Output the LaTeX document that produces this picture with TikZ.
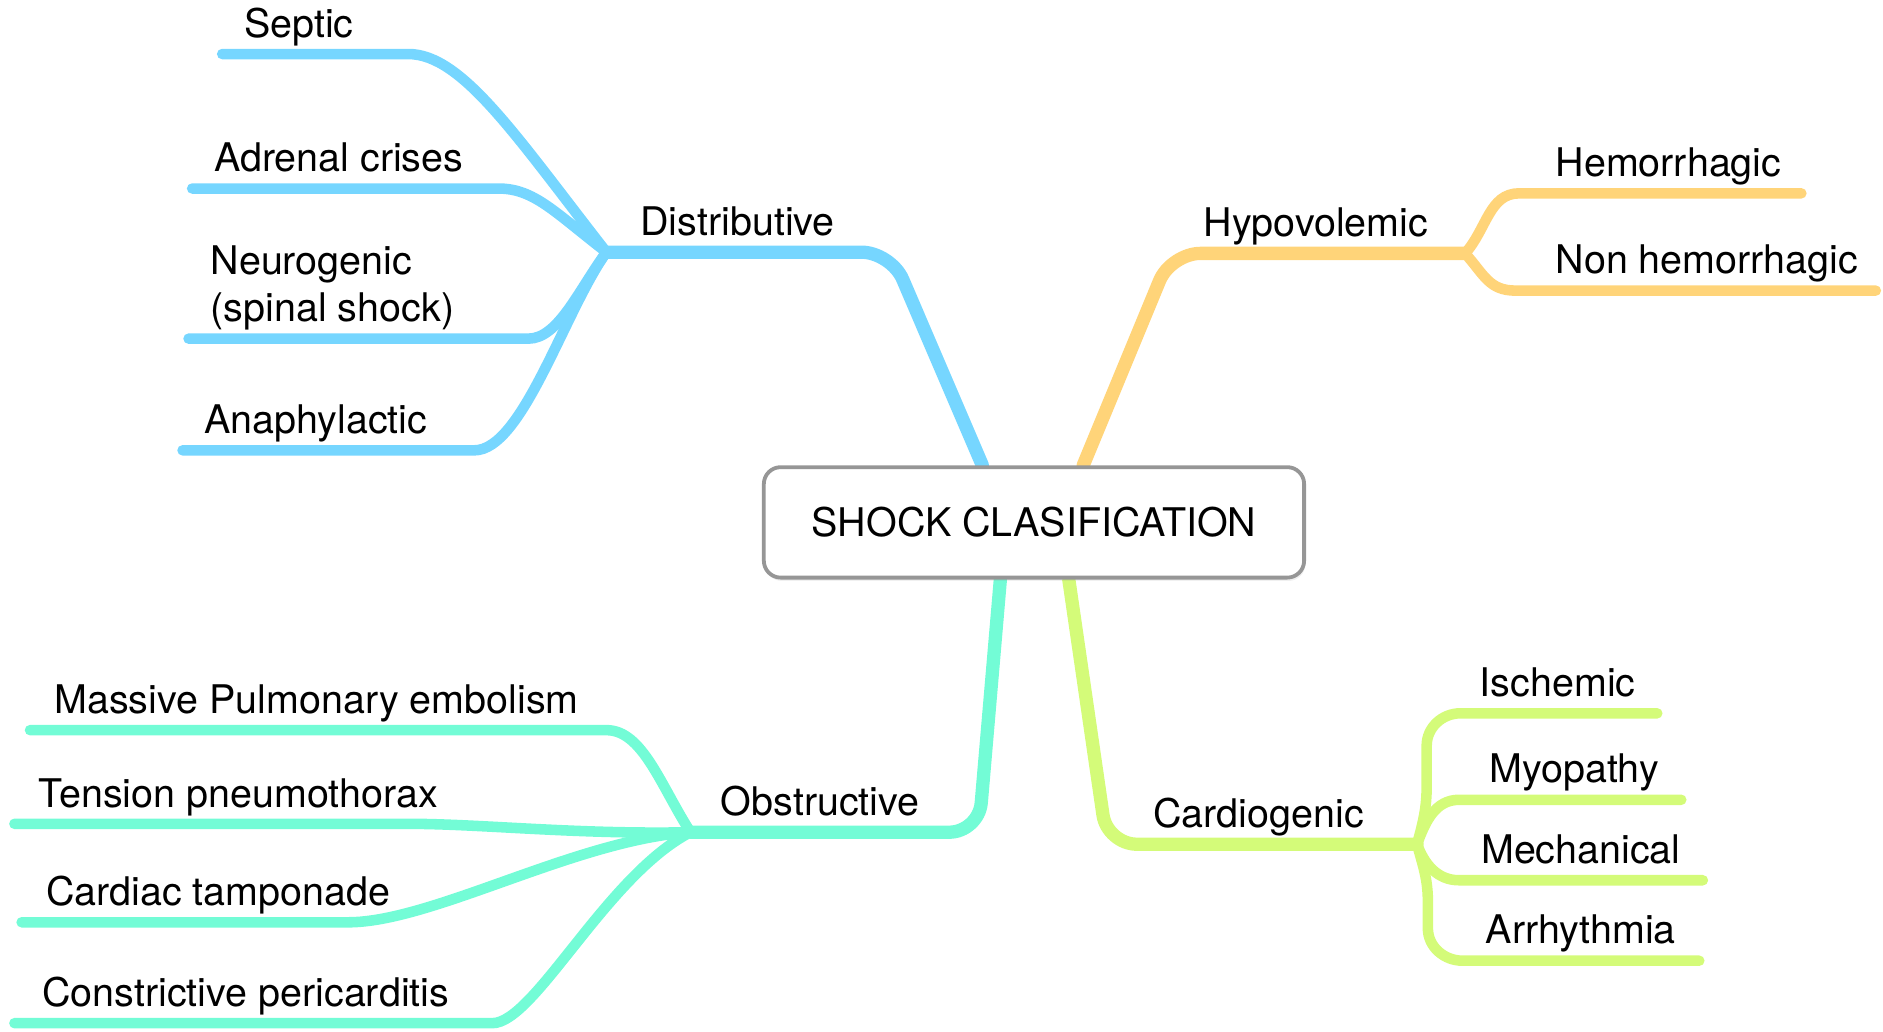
\documentclass[tikz,border=0pt]{standalone}
\usepackage{fontspec}
\setmainfont{TeX Gyre Heros}
\usepackage{tikz}
\usetikzlibrary{backgrounds,calc,shadows}
\definecolor{sky}{HTML}{76D6FF}
\definecolor{cantaloupe}{HTML}{FFD479}
\definecolor{spindrift}{HTML}{73FCD6}
\definecolor{honeydew}{HTML}{D4FB79}
\definecolor{frame}{HTML}{969696}

\begin{document}
\begin{tikzpicture}[x=0.02cm, y=0.02cm,
  lbl/.style={anchor=base west, inner sep=0pt, font=\fontsize{18.7}{22.5}\selectfont},
  trunk/.style={line width=6.3pt, line cap=round, rounded corners=14pt},
  twig/.style={line width=5pt, line cap=round}]
\useasboundingbox (0,0) rectangle (1568,859);

\node[draw=frame, line width=1.8pt, rounded corners=8pt, fill=white,
      minimum width=9cm, minimum height=1.84cm, font=\fontsize{18.7}{22.5}\selectfont,
      drop shadow={shadow xshift=0.6pt, shadow yshift=-1.6pt, opacity=0.12}]
      (root) at (861,424) {SHOCK CLASIFICATION};

\coordinate (djun) at (505,649);
\coordinate (hjun) at (1220,648);
\coordinate (ojun) at (575,166);
\coordinate (cjun) at (1180,156);

\node[lbl] (dist) at (533,663) {Distributive};
\node[lbl] (septic) at (203,828) {Septic};
\node[lbl] (adrenal) at (178,716) {Adrenal crises};
\node[lbl, align=left] (neuro) at (175,591) {Neurogenic\\(spinal shock)};
\node[lbl] (anaph) at (170,498) {Anaphylactic};

\node[lbl] (hypo) at (1002,662) {Hypovolemic};
\node[lbl] (hemor) at (1295,712) {Hemorrhagic};
\node[lbl] (nonhem) at (1295,631) {Non hemorrhagic};

\node[lbl] (obst) at (600,180) {Obstructive};
\node[lbl] (massive) at (45,265) {Massive Pulmonary embolism};
\node[lbl] (tension) at (32,187) {Tension pneumothorax};
\node[lbl] (tamp) at (38,105) {Cardiac tamponade};
\node[lbl] (constr) at (35,21) {Constrictive pericarditis};

\node[lbl] (cardio) at (960,170) {Cardiogenic};
\node[lbl] (ischem) at (1232,279) {Ischemic};
\node[lbl] (myop) at (1240,207) {Myopathy};
\node[lbl] (mech) at (1233,140) {Mechanical};
\node[lbl] (arrhy) at (1237,73) {Arrhythmia};

\coordinate (sep1) at (340,814); \coordinate (sep0) at (185,814);
\coordinate (adr1) at (415,702); \coordinate (adr0) at (160,702);
\coordinate (neu1) at (440,577); \coordinate (neu0) at (157,577);
\coordinate (ana1) at (395,484); \coordinate (ana0) at (152,484);
\coordinate (hem0) at (1265,698); \coordinate (hem1) at (1500,698);
\coordinate (non0) at (1262,617); \coordinate (non1) at (1562,617);
\coordinate (mas1) at (505,251); \coordinate (mas0) at (25,251);
\coordinate (ten1) at (340,173); \coordinate (ten0) at (12,173);
\coordinate (car1) at (290,91); \coordinate (car0) at (18,91);
\coordinate (con1) at (410,7); \coordinate (con0) at (12,7);
\coordinate (isc0) at (1216,265); \coordinate (isc1) at (1380,265);
\coordinate (myo0) at (1215,193); \coordinate (myo1) at (1400,193);
\coordinate (mec0) at (1215,126); \coordinate (mec1) at (1418,126);
\coordinate (arr0) at (1218,59); \coordinate (arr1) at (1415,59);

\begin{scope}[on background layer]
\draw[trunk, sky] ($(root.north)+(-43,0)$) -- (742,649) -- (djun);
\draw[twig, sky] (djun) .. controls (430,745) and (385,814) .. (sep1) -- (sep0);
\draw[twig, sky] (djun) .. controls (462,682) and (445,702) .. (adr1) -- (adr0);
\draw[twig, sky] (djun) .. controls (482,618) and (465,577) .. (neu1) -- (neu0);
\draw[twig, sky] (djun) .. controls (470,600) and (435,484) .. (ana1) -- (ana0);

\draw[trunk, cantaloupe] ($(root.north)+(41,0)$) -- (975,648) -- (hjun);
\draw[twig, cantaloupe] (hjun) .. controls (1238,668) and (1240,698) .. (hem0) -- (hem1);
\draw[twig, cantaloupe] (hjun) .. controls (1236,630) and (1240,617) .. (non0) -- (non1);

\draw[trunk, spindrift] ($(root.south)+(-28,0)$) -- (815,166) -- (ojun);
\draw[twig, spindrift] (ojun) .. controls (550,205) and (535,251) .. (mas1) -- (mas0);
\draw[twig, spindrift] (ojun) .. controls (480,164) and (400,173) .. (ten1) -- (ten0);
\draw[twig, spindrift] (ojun) .. controls (480,160) and (360,91) .. (car1) -- (car0);
\draw[twig, spindrift] (ojun) .. controls (505,130) and (445,7) .. (con1) -- (con0);

\draw[trunk, honeydew] ($(root.south)+(29,0)$) -- (922,156) -- (cjun);
\draw[twig, honeydew] (cjun) to[out=75,in=-90] (1188,205) -- (1188,238) to[out=90,in=180] (isc0) -- (isc1);
\draw[twig, honeydew] (cjun) to[out=70,in=180] (myo0) -- (myo1);
\draw[twig, honeydew] (cjun) to[out=-70,in=180] (mec0) -- (mec1);
\draw[twig, honeydew] (cjun) to[out=-75,in=90] (1189,108) -- (1189,86) to[out=-90,in=180] (arr0) -- (arr1);
\end{scope}
\end{tikzpicture}
\end{document}
